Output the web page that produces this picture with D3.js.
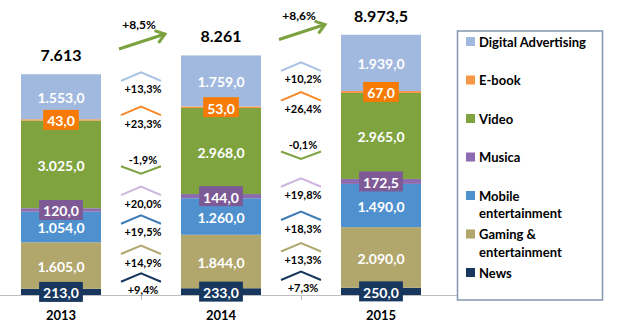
<!DOCTYPE html>
<html>
<head>
<meta charset="utf-8">
<script src="https://cdn.jsdelivr.net/npm/d3@7"></script>
<style>
  html, body { margin: 0; padding: 0; background: #fff; }
  svg { display: block; font-family: Lato, "Open Sans", "Liberation Sans", sans-serif; font-weight: bold; }
</style>
</head>
<body>
<svg id="chart" width="619" height="331"></svg>
<script>
// Yearly revenues by segment (bottom to top of each stack)
const years   = ["2013", "2014", "2015"];
const news    = [213.0, 233.0, 250.0];
const gaming  = [1605.0, 1844.0, 2090.0];
const mobile  = [1054.0, 1260.0, 1490.0];
const musica  = [120.0, 144.0, 172.5];
const video   = [3025.0, 2968.0, 2965.0];
const ebook   = [43.0, 53.0, 67.0];
const digital = [1553.0, 1759.0, 1939.0];

const keys = ["news", "gaming", "mobile", "musica", "video", "ebook", "digital"];
const seriesValues = { news, gaming, mobile, musica, video, ebook, digital };
const legendLabels = {
  digital: ["Digital Advertising"],
  ebook: ["E-book"],
  video: ["Video"],
  musica: ["Musica"],
  mobile: ["Mobile", "entertainment"],
  gaming: ["Gaming &", "entertainment"],
  news: ["News"]
};

// Styling
const fillColor = {
  digital: "#A1B9DE", ebook: "#F79646", video: "#7EA33F", musica: "#8D6BB0",
  mobile: "#4F91CF", gaming: "#B1A66B", news: "#17375E"
};
const boxColor = { ebook: "#F77A05", musica: "#7D5A96", news: "#17375E" };
const chevronColor = {
  digital: "#A7C1E3", ebook: "#F7892A", video: "#7DA23F", musica: "#CDB5DE",
  mobile: "#3F7CB5", gaming: "#B2A870", news: "#17375E"
};
// vertical nudges of the growth annotations, per gap, to keep them apart
const growthNudge = [
  { digital: 0, ebook: 9.5, video: 2, musica: 0, mobile: 10, gaming: -1.5, news: -2 },
  { digital: 7, ebook: 9, video: 1.5, musica: 6, mobile: 17, gaming: 0, news: -3.5 }
];
const totalArrowMidY = [41.5, 32];

const it = d3.formatLocale({ decimal: ",", thousands: ".", grouping: [3], currency: ["€", ""], minus: "-" });
const valueFmt = it.format(",.1f");
const totalFmt = v => Number.isInteger(v) ? it.format(",d")(v) : it.format(",.1f")(v);
const pctFmt = v => (v >= 0 ? "+" : "") + it.format(".1f")(v) + "%";

const rows = years.map((yr, i) => {
  const r = { year: yr };
  keys.forEach(k => r[k] = seriesValues[k][i]);
  return r;
});
const totals = rows.map(r => d3.sum(keys, k => r[k]));
const stacked = d3.stack().keys(keys)(rows);

const svg = d3.select("#chart");
const baseY = 295;

const x = d3.scaleBand().domain(years).range([-19, 461]).paddingInner(0.5).paddingOuter(0.25);
const y = d3.scaleLinear().domain([0, 10000]).range([baseY, 5]);
const bw = x.bandwidth();

// Axis line and category separators
svg.append("line").attr("x1", 0).attr("x2", 457).attr("y1", baseY + 0.5).attr("y2", baseY + 0.5)
  .attr("stroke", "#BFBFBF").attr("stroke-width", 1);
years.slice(1).forEach(yr => {
  const gx = Math.round(x(yr) - (x.step() - bw) / 2) + 0.5;
  svg.append("line").attr("x1", gx).attr("x2", gx).attr("y1", baseY).attr("y2", baseY + 5)
    .attr("stroke", "#BFBFBF");
});

// Stacked bars
const layers = svg.append("g").selectAll("g").data(stacked).join("g")
  .attr("fill", d => fillColor[d.key]);
layers.selectAll("rect").data(d => d).join("rect")
  .attr("x", d => x(d.data.year))
  .attr("width", bw)
  .attr("y", d => y(d[1]))
  .attr("height", d => y(d[0]) - y(d[1]));

// Segment value labels
const labelG = svg.append("g");
stacked.forEach(layer => {
  layer.forEach(d => {
    const cx = x(d.data.year) + bw / 2;
    const cy = (y(d[0]) + y(d[1])) / 2 + 1;
    const txt = valueFmt(d[1] - d[0]);
    const g = labelG.append("g");
    const t = g.append("text").attr("x", cx).attr("y", cy)
      .attr("text-anchor", "middle").attr("dominant-baseline", "central")
      .attr("fill", "#fff").attr("font-size", 14).text(txt);
    if (boxColor[layer.key]) {
      const w = t.node().getComputedTextLength() + 8;
      g.insert("rect", "text").attr("x", cx - w / 2).attr("y", cy - 11)
        .attr("width", w).attr("height", 20).attr("fill", boxColor[layer.key]);
    }
  });
});

// Totals above each bar
svg.append("g").selectAll("text").data(years).join("text")
  .attr("x", d => x(d) + bw / 2)
  .attr("y", (d, i) => y(totals[i]) - 13)
  .attr("text-anchor", "middle").attr("font-size", 16).attr("fill", "#000")
  .text((d, i) => totalFmt(totals[i]));

// Year labels
svg.append("g").selectAll("text").data(years).join("text")
  .attr("x", d => x(d) + bw / 2).attr("y", 320)
  .attr("text-anchor", "middle").attr("font-size", 13).attr("fill", "#000")
  .text(d => d);

// Growth annotations between consecutive years
const growthG = svg.append("g");
for (let i = 1; i < years.length; i++) {
  const gx = x(years[i]) - (x.step() - bw) / 2;
  keys.forEach((k, ki) => {
    const prev = stacked[ki][i - 1], cur = stacked[ki][i];
    const midVal = ((prev[0] + prev[1]) / 2 + (cur[0] + cur[1]) / 2) / 2;
    const ly = y(midVal) + growthNudge[i - 1][k];
    const g = (seriesValues[k][i] / seriesValues[k][i - 1] - 1) * 100;
    growthG.append("text").attr("x", gx + 2).attr("y", ly)
      .attr("text-anchor", "middle").attr("dominant-baseline", "central")
      .attr("font-size", 11).attr("fill", "#000").text(pctFmt(g));
    const pts = g >= 0
      ? [[gx - 20, ly - 8], [gx, ly - 16.5], [gx + 20, ly - 8]]
      : [[gx - 20, ly + 6.5], [gx, ly + 14], [gx + 20, ly + 6.5]];
    growthG.append("path").attr("d", d3.line()(pts))
      .attr("fill", "none").attr("stroke", chevronColor[k]).attr("stroke-width", 2);
  });

  // Total growth arrow
  const tg = (totals[i] / totals[i - 1] - 1) * 100;
  const my = totalArrowMidY[i - 1];
  const x0 = gx - 22, y0 = my + 7.5, x1 = gx + 24, y1 = my - 7.5;
  const ang = Math.atan2(y1 - y0, x1 - x0);
  const head = [ang + Math.PI * 0.8, ang - Math.PI * 0.8].map(a => [x1 + 11 * Math.cos(a), y1 + 11 * Math.sin(a)]);
  growthG.append("path").attr("d", d3.line()([[x0, y0], [x1, y1]]))
    .attr("stroke", "#7BA23F").attr("stroke-width", 3).attr("fill", "none");
  growthG.append("path").attr("d", d3.line()([head[0], [x1, y1], head[1]]))
    .attr("stroke", "#7BA23F").attr("stroke-width", 3).attr("fill", "none")
    .attr("stroke-linejoin", "miter");
  growthG.append("text").attr("x", gx - 2).attr("y", my - 17)
    .attr("text-anchor", "middle").attr("dominant-baseline", "central")
    .attr("font-size", 12).attr("fill", "#000").text(pctFmt(tg));
}

// Legend
const legend = svg.append("g");
legend.append("rect").attr("x", 457.5).attr("y", 31).attr("width", 145).attr("height", 269)
  .attr("fill", "#fff").attr("stroke", "#8296AE").attr("stroke-width", 1.5);
keys.slice().reverse().forEach((k, i) => {
  const top = 37 + i * 38.5;
  legend.append("rect").attr("x", 466).attr("y", top).attr("width", 9).attr("height", 9)
    .attr("fill", fillColor[k]);
  legendLabels[k].forEach((line, li) => {
    legend.append("text").attr("x", 479).attr("y", top + 9.5 + li * 17.5)
      .attr("font-size", 13).attr("fill", "#000").text(line);
  });
});
</script>
</body>
</html>
